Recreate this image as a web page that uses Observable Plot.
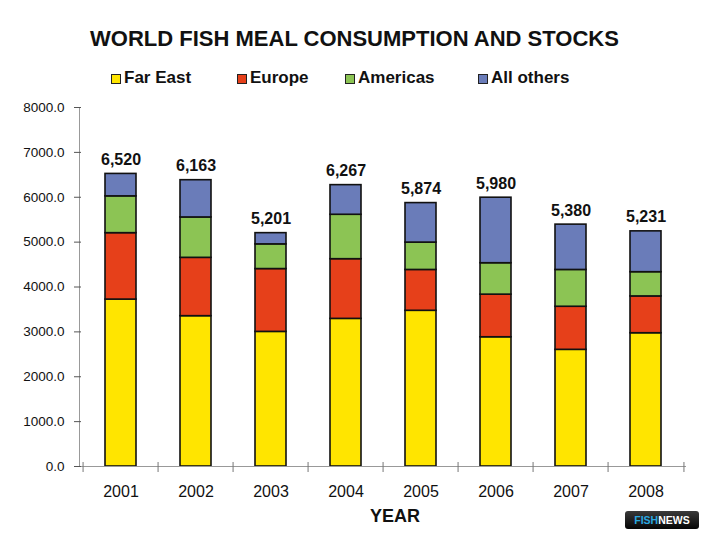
<!DOCTYPE html>
<html>
<head>
<meta charset="utf-8">
<script src="https://cdn.jsdelivr.net/npm/d3@7"></script>
<script src="https://cdn.jsdelivr.net/npm/@observablehq/plot@0.6"></script>
<style>
  html, body { margin: 0; padding: 0; background: #fff; }
  body { width: 709px; height: 540px; position: relative; overflow: hidden; font-family: Arial, "Liberation Sans", sans-serif; }
  .title { position: absolute; left: 0; width: 709px; top: 28px; text-align: center; font-size: 22px; font-weight: bold; line-height: 1; color: #111; }
  .leg { position: absolute; top: 69px; font-size: 17px; font-weight: bold; line-height: 1; color: #111; white-space: nowrap; }
  .sw { position: absolute; top: 5px; width: 8px; height: 8px; border: 1px solid #222; }
  .leg span.t { position: absolute; left: 13px; top: 0; }
  #chart { position: absolute; left: 0; top: 100px; }
  .logo { position: absolute; left: 625px; top: 511px; width: 74px; height: 18px; border-radius: 3px;
          background: linear-gradient(#3a3a3a, #050505); font-size: 10.5px; font-weight: bold; line-height: 18px; text-align: center; letter-spacing: 0; }
  .logo .f { color: #2aa8e0; } .logo .n { color: #fff; }
</style>
</head>
<body>
<div class="title">WORLD FISH MEAL CONSUMPTION AND STOCKS</div>
<div id="legend"></div>
<div id="chart"></div>
<div class="logo"><span class="f">FISH</span><span class="n">NEWS</span></div>
<script>
const years = ["2001", "2002", "2003", "2004", "2005", "2006", "2007", "2008"];
const regions = ["Far East", "Europe", "Americas", "All others"];
const colors = ["#FFE500", "#E6401A", "#8CC454", "#6A7CB9"];
const farEast   = [3720, 3350, 3000, 3290, 3470, 2880, 2600, 2970];
const europe    = [1480, 1300, 1400, 1330,  910,  950,  960,  820];
const americas  = [ 820,  900,  550,  990,  610,  700,  820,  540];
const allOthers = [ 500,  830,  250,  660,  880, 1460, 1010,  910];
const totalLabels = ["6,520", "6,163", "5,201", "6,267", "5,874", "5,980", "5,380", "5,231"];
const yTicks = [0, 1000, 2000, 3000, 4000, 5000, 6000, 7000, 8000];

const series = [farEast, europe, americas, allOthers];
const rows = [];
years.forEach((y, i) => regions.forEach((r, k) => rows.push({year: y, region: r, value: series[k][i]})));
const totals = years.map((y, i) => ({year: y, total: series.reduce((s, a) => s + a[i], 0), label: totalLabels[i]}));

// legend
const legendX = [111, 237, 345, 478];
const leg = document.getElementById("legend");
regions.forEach((r, k) => {
  const d = document.createElement("div");
  d.className = "leg";
  d.style.left = legendX[k] + "px";
  d.innerHTML = `<span class="sw" style="background:${colors[k]}"></span><span class="t">${r}</span>`;
  leg.appendChild(d);
});

const W = 709, H = 440, mL = 79, mR = 23, mT = 7, mB = 74;
const step = (W - mL - mR) / years.length;

const plot = Plot.plot({
  width: W, height: H,
  marginLeft: mL, marginRight: mR, marginTop: mT, marginBottom: mB,
  style: {fontFamily: "Arial, 'Liberation Sans', sans-serif", color: "#111", background: "#fff"},
  x: {domain: years, paddingInner: 0.59, paddingOuter: 0.295, label: null},
  y: {domain: [0, 8000], label: null},
  color: {domain: regions, range: colors},
  marks: [
    Plot.frame({anchor: "left", stroke: "#999"}),
    Plot.barY(rows, {x: "year", y: "value", fill: "region", stroke: "#111", strokeWidth: 1.6}),
    Plot.ruleY([0], {stroke: "#999"}),
    Plot.ruleX(years, {x: d => d, y1: 0, y2: 0, dx: -step / 2, insetTop: -4, insetBottom: -6, stroke: "#777"}),
    Plot.ruleX([years[years.length - 1]], {x: d => d, y1: 0, y2: 0, dx: step / 2, insetTop: -4, insetBottom: -6, stroke: "#777"}),
    Plot.axisY({ticks: yTicks, tickFormat: d3.format(".1f"), tickSize: 7, dx: 2, tickPadding: 10, fontSize: 13.5, stroke: "#555"}),
    Plot.axisX({tickSize: 0, tickPadding: 19, fontSize: 16}),
    Plot.text(totals, {x: "year", y: "total", text: "label", dy: -9, lineAnchor: "bottom", fontWeight: "bold", fontSize: 16, fill: "#111"}),
    Plot.text(["YEAR"], {frameAnchor: "bottom", dx: 12, dy: 55, fontWeight: "bold", fontSize: 18, fill: "#111"})
  ]
});
document.getElementById("chart").appendChild(plot);
</script>
</body>
</html>
